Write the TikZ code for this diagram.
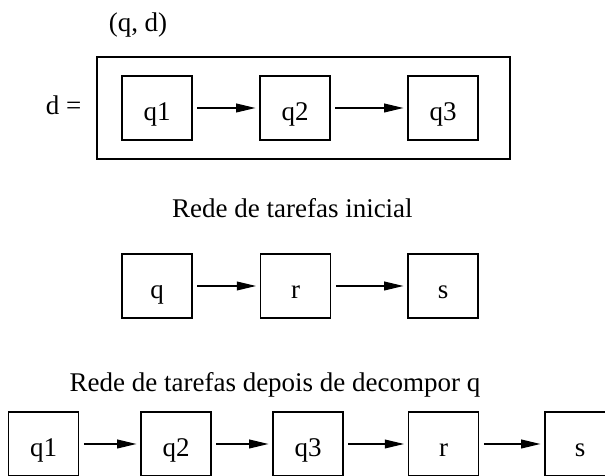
\documentclass[tikz,border=0pt]{standalone}
\usepackage{fontspec}
\setmainfont{Liberation Serif}
\usepackage{tikz}
\usetikzlibrary{arrows.meta,positioning}

\begin{document}
\begin{tikzpicture}[
    font=\fontsize{19.2}{23}\selectfont,
    every path/.style={line width=0.8pt},
    task/.style={draw,minimum width=1.75cm,minimum height=1.6cm,inner sep=0pt,
                 text height=0.65cm,text depth=0pt},
    link/.style={-{Triangle[length=0.48cm,width=0.22cm]},shorten <=0.12cm,shorten >=0.1cm}]
  \useasboundingbox (0,0) rectangle (15.125,11.9);
  % method (q, d)
  \node[anchor=base] (qd) at (3.45,11.1) {(q, d)};
  \node[anchor=base] (deq) at (1.59,9.025) {d =};
  \node[draw,minimum width=10.325cm,minimum height=2.55cm] (dbox) at (7.5875,9.2) {};
  \node[task] (dq1) at (3.925,9.2) {q1};
  \node[task] (dq2) at (7.375,9.2) {q2};
  \node[task] (dq3) at (11.075,9.2) {q3};
  \draw[link] (dq1) -- (dq2);
  \draw[link] (dq2) -- (dq3);
  % initial task network
  \node[anchor=base] (tinit) at (7.31,6.45) {Rede de tarefas inicial};
  \node[task] (iq) at (3.925,4.75) {q};
  \node[task] (ir) at (7.39,4.75) {r};
  \node[task] (is) at (11.075,4.75) {s};
  \draw[link] (iq) -- (ir);
  \draw[link] (ir) -- (is);
  % after decomposing q
  \node[anchor=base] (tdec) at (6.875,2.1) {Rede de tarefas depois de decompor q};
  \node[task] (bq1) at (1.0875,0.8) {q1};
  \node[task] (bq2) at (4.4,0.8) {q2};
  \node[task] (bq3) at (7.7,0.8) {q3};
  \node[task] (br) at (11.09,0.8) {r};
  \node[task] (bs) at (14.5,0.8) {s};
  \draw[link] (bq1) -- (bq2);
  \draw[link] (bq2) -- (bq3);
  \draw[link] (bq3) -- (br);
  \draw[link] (br) -- (bs);
\end{tikzpicture}
\end{document}
